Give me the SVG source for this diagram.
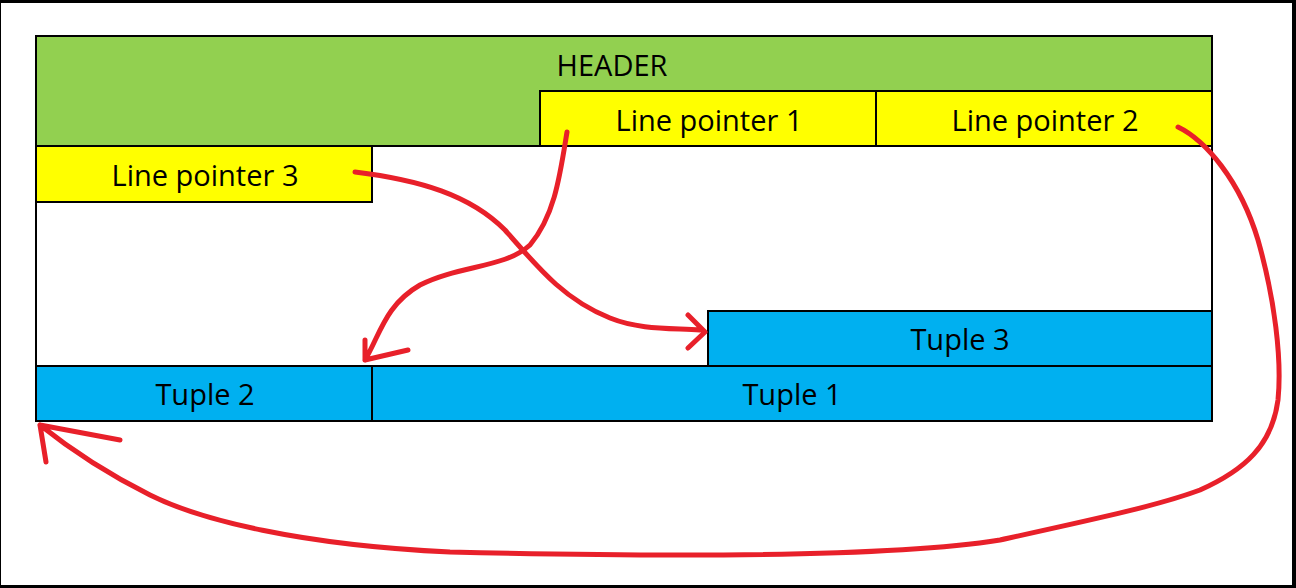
<svg xmlns="http://www.w3.org/2000/svg" width="1296" height="588" viewBox="0 0 1296 588">
<style>
.b{stroke:#000;stroke-width:2}
.t{font-family:"Open Sans","Noto Sans",sans-serif;font-size:29px;fill:#000;text-anchor:middle}
.y{fill:#ffff00}.c{fill:#00b0f0}
.r{fill:none;stroke:#e8202a;stroke-width:5;stroke-linecap:round;stroke-linejoin:round}
</style>
<rect width="1296" height="588" fill="#000"/>
<rect x="1" y="3" width="1291" height="582" fill="#fff"/>
<rect x="36" y="36" width="1176" height="385" fill="#fff" class="b"/>
<g id="header"><path d="M36 36H1212V91H540V146H36Z" fill="#92d050" class="b"/><text x="612" y="76" class="t">HEADER</text></g>
<g id="lp1"><rect x="540" y="91" width="336" height="55" class="y b"/><text x="709" y="131" class="t">Line pointer 1</text></g>
<g id="lp2"><rect x="876" y="91" width="336" height="55" class="y b"/><text x="1045" y="131" class="t">Line pointer 2</text></g>
<g id="lp3"><rect x="36" y="146" width="336" height="56" class="y b"/><text x="205" y="186" class="t">Line pointer 3</text></g>
<g id="tuple3"><rect x="708" y="311" width="504" height="55" class="c b"/><text x="960" y="350" class="t">Tuple 3</text></g>
<g id="tuple2"><rect x="36" y="366" width="336" height="55" class="c b"/><text x="205" y="405" class="t">Tuple 2</text></g>
<g id="tuple1"><rect x="372" y="366" width="840" height="55" class="c b"/><text x="792" y="405" class="t">Tuple 1</text></g>
<g id="connectors">
<path class="r" d="M567 132C560 175 555 215 530 245C505 268 460 265 420 285C385 305 380 335 365 360M365 340L365 360L408 350"/>
<path class="r" d="M355 172C420 180 470 195 505 230C540 270 565 300 610 318C640 330 670 328 700 330M688 315L705 332L688 348"/>
<path class="r" d="M1178 127C1205 140 1240 180 1258 240C1275 300 1282 360 1278 400C1272 445 1245 470 1200 490C1160 505 1100 518 1000 540C900 556 700 558 450 552C300 545 200 520 150 495C100 470 65 445 40 425M46 462L40 425L120 440"/>
</g>
</svg>
